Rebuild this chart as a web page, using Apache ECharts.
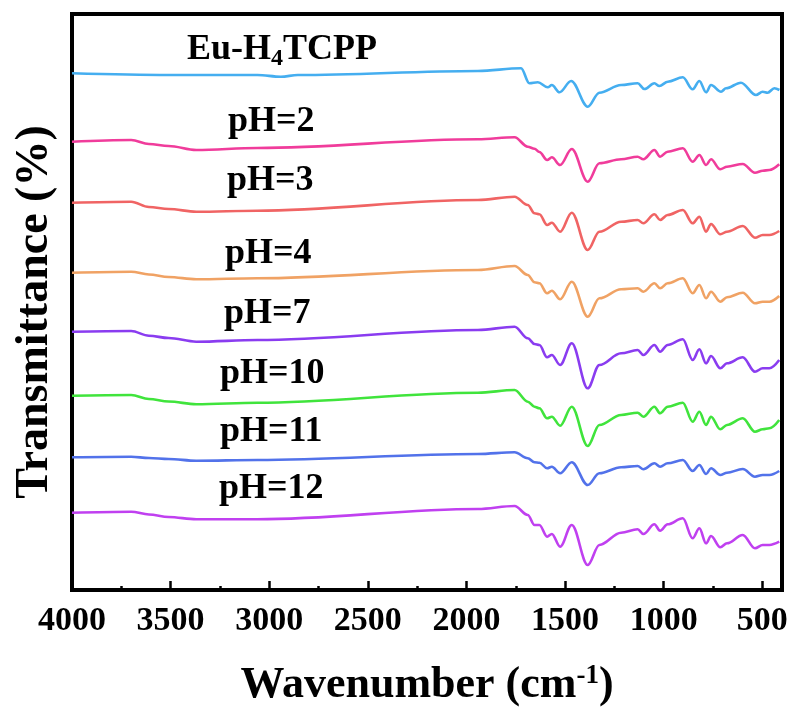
<!DOCTYPE html>
<html>
<head>
<meta charset="utf-8">
<script src="https://cdn.jsdelivr.net/npm/echarts@6/dist/echarts.min.js"></script>
<style>
  html, body { margin: 0; padding: 0; background: #fff; }
  #chart { width: 797px; height: 711px; }
</style>
</head>
<body>
<div id="chart"></div>
<script>
// ---------- data ----------
var seriesNames = ['Eu-H4TCPP', 'pH=2', 'pH=3', 'pH=4', 'pH=7', 'pH=10', 'pH=11', 'pH=12'];
var xTickLabels = [4000, 3500, 3000, 2500, 2000, 1500, 1000, 500];
var xMinorTicks = [3750, 3250, 2750, 2250, 1750, 1250, 750];

// wavenumbers (cm-1) for the Eu-H4TCPP curve
var wnEu = [4000, 3510, 3060, 2941, 2855, 1942, 1723, 1681, 1638, 1588, 1567, 1528, 1469, 1385, 1326, 1216,
            1132, 1098, 1047, 1022, 979, 903, 853, 819, 785, 760, 709, 684, 608, 532, 498, 473, 439, 413];
var tEu = [516.7, 515, 515, 513.3, 515, 519, 521.7, 506.7, 507.7, 502.7, 505, 497.7, 509, 483.3, 497.3, 505,
           506.7, 501, 506.7, 504, 508.3, 512.7, 500.7, 509, 497.7, 505, 498.3, 501.7, 507.3, 495, 498.3, 497.3, 501.7, 500];

// wavenumbers (cm-1) for the pH curves
var wnPH = [4000, 3700, 3610, 3510, 3370, 3060, 1942, 1756, 1689, 1655, 1630, 1591, 1567, 1525, 1466, 1385, 1326,
            1216, 1132, 1103, 1047, 1018, 980, 903, 853, 819, 785, 760, 713, 679, 599, 537, 498, 464, 414];
var tPH2 = [448.3, 450, 446, 444, 440, 442, 450.7, 452.7, 443.3, 441.3, 438, 430, 432.7, 425, 441, 408.3, 426.7,
            430.7, 433.3, 430.7, 440, 433.3, 438.3, 441.7, 428.3, 435, 425, 430.7, 420.7, 423.3, 426, 417.3, 419.3, 420, 425.7];
var tPH3 = [387.3, 388.3, 383, 381, 378.3, 379.3, 390, 393.3, 385, 376.7, 375.7, 365, 367.3, 358.3, 377.3, 340, 358.3,
            368.3, 370, 366.7, 375.7, 370, 375, 380, 366.7, 373.3, 358.3, 366, 355.7, 358.3, 364, 352.3, 355, 355, 359];
var tPH4 = [317.3, 318.3, 315.5, 313, 310.7, 311.7, 320, 324, 315, 307.7, 306.7, 296.7, 299.3, 290.7, 308.3, 273.3, 291.7,
            300.7, 301.7, 298.3, 306.7, 301.7, 306.7, 311.7, 296.7, 305, 291.7, 298.3, 288.3, 292.7, 297.3, 286.7, 288.3, 288.3, 294];
var tPH7 = [258.3, 259, 254.3, 252, 248.3, 250, 260, 263.3, 251.7, 246, 245, 232.7, 235, 225, 246.7, 201.7, 225,
            236.7, 240, 235, 245, 238.3, 245, 250.7, 230, 240.7, 226.7, 234, 221.7, 226.7, 232.7, 218.3, 221.7, 221.7, 230];
var tPH10 = [194.3, 195, 191, 188.5, 185.7, 187.3, 197.3, 200, 188.3, 183.3, 181.7, 171.7, 173.3, 164.3, 183.3, 144, 165,
             175, 177.3, 173.3, 183.3, 176.7, 183.3, 187.3, 168.3, 178.3, 165, 173.3, 160.7, 165, 171.7, 158.3, 160.7, 161.7, 170];
var tPH11 = [132.7, 133.3, 132, 131, 129.3, 130, 136, 137.7, 131.7, 127.7, 127.3, 121.7, 123.3, 116.7, 127.7, 105, 116.7,
             122.7, 124, 120.7, 126.7, 123.3, 126.7, 130, 119, 125, 116, 121.7, 115, 117.3, 121, 113.3, 115, 115, 119];
var tPH12 = [77.3, 78.3, 75.5, 73, 70.7, 70.7, 81, 84, 75, 65, 65, 53.3, 56, 43.3, 65, 25, 45,
             57.3, 60.7, 56, 65.7, 59.3, 65.7, 71.7, 51.7, 61.7, 46.7, 54, 42.7, 46.7, 55, 41.7, 45, 45, 48.3];

// ---------- build ----------
function pairs(xs, ys) { return xs.map(function (x, i) { return [x, ys[i]]; }); }

var FONT = '"Liberation Serif", "Times New Roman", serif';
var colors = ['#45aef0', '#f03c9b', '#f06464', '#f0a264', '#8a3cf0', '#40e43c', '#5272ea', '#c040f0'];
var curves = [pairs(wnEu, tEu), pairs(wnPH, tPH2), pairs(wnPH, tPH3), pairs(wnPH, tPH4),
              pairs(wnPH, tPH7), pairs(wnPH, tPH10), pairs(wnPH, tPH11), pairs(wnPH, tPH12)];
// label anchor (in data coordinates) for each curve name
var labelAnchors = [[2935, 540], [2990, 468], [2995, 409], [3005, 336], [3010, 276], [2985, 216], [2990, 158], [2990, 101]];
var labelTexts = ['{a|Eu-H}{s|4}{a|TCPP}', '{a|pH=2}', '{a|pH=3}', '{a|pH=4}', '{a|pH=7}', '{a|pH=10}', '{a|pH=11}', '{a|pH=12}'];

var richLabel = {
  a: { fontFamily: FONT, fontWeight: 'bold', fontSize: 36, color: '#000' },
  s: { fontFamily: FONT, fontWeight: 'bold', fontSize: 24, color: '#000', padding: [18, 0, 0, 0] }
};

var series = curves.map(function (d, i) {
  return {
    name: seriesNames[i],
    type: 'line',
    data: d,
    showSymbol: false,
    symbol: 'none',
    smooth: 0.35,
    smoothMonotone: 'x',
    lineStyle: { color: colors[i], width: 2.6 },
    itemStyle: { color: colors[i] },
    markPoint: {
      silent: true,
      symbol: 'circle',
      symbolSize: 0,
      animation: false,
      data: [{
        coord: labelAnchors[i],
        label: {
          show: true,
          position: 'inside',
          formatter: labelTexts[i],
          rich: richLabel
        }
      }]
    }
  };
});

var chart = echarts.init(document.getElementById('chart'));
chart.setOption({
  animation: false,
  backgroundColor: '#fff',
  grid: {
    left: 72, right: 15, top: 14, bottom: 121,
    show: true, borderColor: '#000', borderWidth: 4,
    containLabel: false, outerBoundsMode: 'none'
  },
  xAxis: [{
    type: 'value',
    min: 400, max: 4000,
    inverse: true,
    position: 'bottom',
    splitLine: { show: false },
    axisLine: { show: true, lineStyle: { color: '#000', width: 4 } },
    axisTick: { show: true, inside: true, length: 9, customValues: xTickLabels, lineStyle: { color: '#000', width: 2.5 } },
    axisLabel: {
      show: true, customValues: xTickLabels, margin: 14,
      formatter: function (v) { return String(v); },
      color: '#000', fontFamily: FONT, fontWeight: 'bold', fontSize: 34
    },
    name: '{a|Wavenumber (cm}{b|-1}{a|)}',
    nameLocation: 'middle',
    nameGap: 73,
    nameTextStyle: {
      rich: {
        a: { fontFamily: FONT, fontWeight: 'bold', fontSize: 44, color: '#000' },
        b: { fontFamily: FONT, fontWeight: 'bold', fontSize: 27, color: '#000', padding: [0, 0, 18, 0] }
      }
    }
  }, {
    type: 'value',
    min: 400, max: 4000,
    inverse: true,
    position: 'bottom',
    splitLine: { show: false },
    axisLine: { show: false },
    axisLabel: { show: false },
    axisTick: { show: true, inside: true, length: 4, customValues: xMinorTicks, lineStyle: { color: '#000', width: 2.5 } }
  }],
  yAxis: {
    type: 'value',
    min: 0, max: 576,
    splitLine: { show: false },
    axisLine: { show: true, lineStyle: { color: '#000', width: 4 } },
    axisTick: { show: false },
    axisLabel: { show: false },
    name: 'Transmittance (%)',
    nameLocation: 'middle',
    nameGap: 14,
    nameTextStyle: {
      fontFamily: FONT, fontWeight: 'bold', fontSize: 46, color: '#000',
      padding: [0, 20, 0, 0]
    }
  },
  series: series
});
</script>
</body>
</html>
